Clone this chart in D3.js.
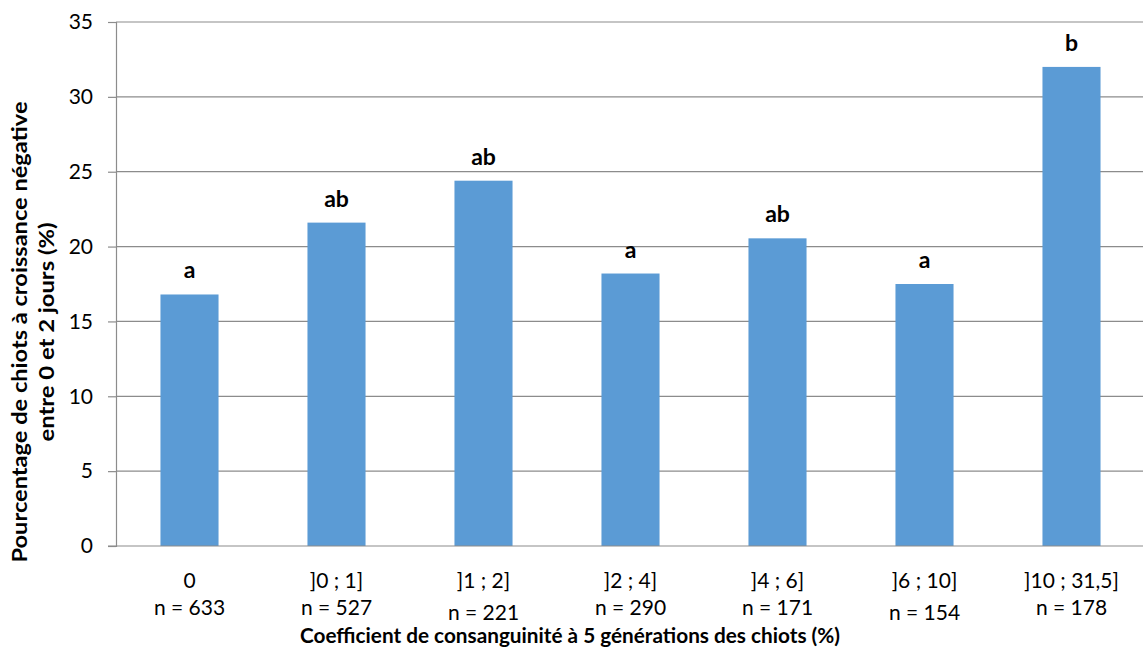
<!DOCTYPE html>
<html>
<head>
<meta charset="utf-8">
<script src="https://cdn.jsdelivr.net/npm/d3@7"></script>
<style>
  html, body { margin: 0; padding: 0; background: #fff; }
  svg { display: block; }
  text { font-family: Lato, "Noto Sans", sans-serif; fill: #000; }
</style>
</head>
<body>
<div id="chart"></div>
<script>
// Inbreeding classes (%) and litter sizes
const categories = ["0", "]0 ; 1]", "]1 ; 2]", "]2 ; 4]", "]4 ; 6]", "]6 ; 10]", "]10 ; 31,5]"];
const counts = ["n = 633", "n = 527", "n = 221", "n = 290", "n = 171", "n = 154", "n = 178"];
// Share of puppies with negative growth between day 0 and day 2 (%)
const values = [16.8, 21.6, 24.4, 18.2, 20.55, 17.5, 32.0];
// Significance groups
const groups = ["a", "ab", "ab", "a", "ab", "a", "b"];
const yTicks = [0, 5, 10, 15, 20, 25, 30, 35];

const W = 1143, H = 653;
const plot = { left: 116, right: 1145, top: 22, bottom: 546 };

const svg = d3.select("#chart").append("svg")
  .attr("width", W).attr("height", H);

const x = d3.scaleBand()
  .domain(categories)
  .range([plot.left, plot.right])
  .paddingInner(0.605)
  .paddingOuter(0.3025);

const y = d3.scaleLinear().domain([0, 35]).range([plot.bottom, plot.top]);

// Horizontal gridlines
svg.append("g")
  .selectAll("line")
  .data(yTicks.filter(t => t > 0))
  .join("line")
  .attr("x1", plot.left).attr("x2", plot.right)
  .attr("y1", d => y(d)).attr("y2", d => y(d))
  .attr("stroke", "#8c8c8c").attr("stroke-width", 1.2);

// Bars
svg.append("g")
  .selectAll("rect")
  .data(values)
  .join("rect")
  .attr("x", (d, i) => x(categories[i]))
  .attr("width", x.bandwidth())
  .attr("y", d => y(d))
  .attr("height", d => y(0) - y(d))
  .attr("fill", "#5B9BD5");

// Y axis
const yAxis = d3.axisLeft(y).tickValues(yTicks).tickSize(8).tickPadding(15).tickFormat(d3.format("d"));
const gy = svg.append("g").attr("transform", `translate(${plot.left},0)`).call(yAxis);
gy.select(".domain").attr("stroke", "#8c8c8c").attr("stroke-width", 1.2);
gy.selectAll(".tick line").attr("stroke", "#8c8c8c").attr("stroke-width", 1.2);
gy.selectAll(".tick text").style("font-size", "21px").attr("fill", "#000");

// X baseline
svg.append("line")
  .attr("x1", plot.left - 8).attr("x2", plot.right)
  .attr("y1", y(0)).attr("y2", y(0))
  .attr("stroke", "#8c8c8c").attr("stroke-width", 1.2);

// Category labels (two lines)
const xl = svg.append("g");
xl.selectAll("text.cat")
  .data(categories)
  .join("text")
  .attr("class", "cat")
  .attr("x", d => x(d) + x.bandwidth() / 2)
  .attr("y", 588)
  .attr("text-anchor", "middle")
  .style("font-size", "21px")
  .text(d => d);
xl.selectAll("text.n")
  .data(counts)
  .join("text")
  .attr("class", "n")
  .attr("x", (d, i) => x(categories[i]) + x.bandwidth() / 2)
  .attr("y", (d, i) => (i === 2 || i === 5) ? 620 : 615)
  .attr("text-anchor", "middle")
  .style("font-size", "21px")
  .text(d => d);

// Significance letters above bars
svg.append("g")
  .selectAll("text")
  .data(groups)
  .join("text")
  .attr("x", (d, i) => x(categories[i]) + x.bandwidth() / 2)
  .attr("y", (d, i) => y(values[i]) - 16)
  .attr("text-anchor", "middle")
  .style("font-size", "23px")
  .style("font-weight", "bold")
  .text(d => d);

// Axis titles
svg.append("text")
  .attr("x", 570).attr("y", 643)
  .attr("text-anchor", "middle")
  .style("font-size", "21px").style("font-weight", "bold")
  .attr("textLength", 540).attr("lengthAdjust", "spacingAndGlyphs")
  .text("Coefficient de consanguinité à 5 générations des chiots (%)");

const yt = svg.append("g").attr("transform", "translate(0,332) rotate(-90)");
yt.append("text")
  .attr("x", 0).attr("y", 27)
  .attr("text-anchor", "middle")
  .style("font-size", "21px").style("font-weight", "bold")
  .attr("textLength", 461).attr("lengthAdjust", "spacingAndGlyphs")
  .text("Pourcentage de chiots à croissance négative");
yt.append("text")
  .attr("x", 0).attr("y", 54)
  .attr("text-anchor", "middle")
  .style("font-size", "21px").style("font-weight", "bold")
  .attr("textLength", 219).attr("lengthAdjust", "spacingAndGlyphs")
  .text("entre 0 et 2 jours (%)");
</script>
</body>
</html>
